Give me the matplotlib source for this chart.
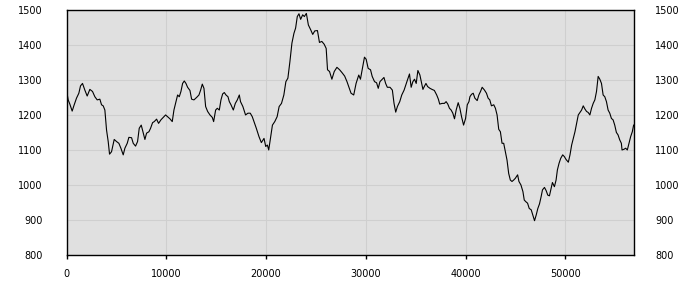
import matplotlib
matplotlib.use("Agg")
import matplotlib.pyplot as plt

# values
xs = [0, 167, 334, 569, 736, 1003, 1237, 1404, 1605, 1839, 2073, 2341, 2608, 2842,
      3077, 3344, 3511, 3678, 3846, 4013, 4180, 4314, 4514, 4782, 5016, 5250, 5451,
      5685, 5852, 6086, 6253, 6521, 6688, 6922, 7123, 7290, 7491, 7691, 7858, 8026,
      8260, 8427, 8628, 8795, 9029, 9229, 9464, 9698, 9932, 10132, 10366, 10600,
      10768, 10968, 11136, 11303, 11470, 11637, 11805, 11972, 12139, 12373, 12540,
      12774, 13042, 13276, 13443, 13610, 13777, 13945, 14145, 14379, 14613, 14747,
      14947, 15115, 15315, 15482, 15650, 15817, 15984, 16185, 16319, 16486, 16720,
      16920, 17121, 17321, 17441, 17677, 17946, 18182, 18418, 18620, 18855, 19024,
      19293, 19529, 19798, 19966, 20135, 20269, 20438, 20640, 20875, 21111, 21313,
      21549, 21785, 21987, 22189, 22391, 22593, 22795, 22963, 23131, 23300, 23468,
      23670, 23838, 24040, 24242, 24478, 24680, 24882, 25152, 25354, 25589, 25825,
      26027, 26162, 26364, 26599, 26835, 27104, 27374, 27609, 27879, 28114, 28350,
      28519, 28788, 29024, 29293, 29461, 29630, 29865, 30034, 30236, 30472, 30640,
      30876, 31078, 31246, 31414, 31650, 31818, 31987, 32155, 32424, 32660, 32828,
      32997, 33165, 33401, 33603, 33838, 34007, 34175, 34377, 34545, 34714, 34882,
      35050, 35219, 35421, 35589, 35724, 35858, 36027, 36195, 36431, 36633, 36869,
      37104, 37273, 37407, 37643, 37879, 38047, 38216, 38384, 38552, 38721, 38889,
      39057, 39259, 39428, 39596, 39798, 40000, 40168, 40337, 40432, 40598, 40764,
      40930, 41163, 41329, 41495, 41661, 41894, 42093, 42259, 42425, 42591, 42824,
      42990, 43156, 43322, 43488, 43654, 43820, 43986, 44153, 44319, 44485, 44651,
      44817, 44983, 45216, 45348, 45548, 45747, 45880, 46046, 46212, 46378, 46578,
      46744, 46910, 47076, 47242, 47408, 47574, 47707, 47906, 48072, 48239, 48405,
      48571, 48704, 48903, 49069, 49202, 49368, 49534, 49733, 49900, 50066, 50298,
      50464, 50630, 50797, 50963, 51129, 51295, 51461, 51627, 51793, 51959, 52125,
      52291, 52457, 52624, 52790, 52956, 53122, 53288, 53454, 53620, 53786, 53952,
      54118, 54285, 54451, 54617, 54783, 54949, 55115, 55281, 55447, 55613, 55680,
      55879, 56046, 56212, 56378, 56544, 56710, 56843]
ys = [1271, 1243, 1231, 1211, 1226, 1248, 1262, 1283, 1290, 1271, 1254, 1273, 1267,
      1252, 1243, 1245, 1229, 1226, 1214, 1157, 1124, 1088, 1095, 1130, 1124, 1119,
      1105, 1086, 1105, 1119, 1136, 1135, 1119, 1111, 1124, 1162, 1171, 1148, 1130,
      1148, 1152, 1162, 1178, 1181, 1188, 1176, 1186, 1193, 1200, 1195, 1189, 1181,
      1214, 1238, 1257, 1252, 1267, 1290, 1297, 1290, 1279, 1270, 1245, 1243, 1250,
      1257, 1271, 1288, 1276, 1224, 1210, 1200, 1193, 1181, 1214, 1219, 1214, 1243,
      1260, 1264, 1257, 1252, 1238, 1229, 1214, 1233, 1243, 1257, 1238, 1224, 1200,
      1205, 1205, 1195, 1176, 1162, 1138, 1121, 1133, 1110, 1114, 1100, 1133, 1171,
      1181, 1195, 1224, 1233, 1257, 1295, 1305, 1352, 1405, 1433, 1448, 1481, 1489,
      1473, 1486, 1481, 1490, 1457, 1443, 1430, 1440, 1441, 1407, 1410, 1402, 1390,
      1329, 1324, 1302, 1324, 1336, 1329, 1321, 1311, 1295, 1276, 1262, 1257, 1290,
      1314, 1302, 1329, 1365, 1359, 1333, 1329, 1310, 1295, 1292, 1276, 1295, 1302,
      1307, 1290, 1279, 1279, 1271, 1233, 1208, 1224, 1238, 1257, 1271, 1286, 1300,
      1317, 1279, 1295, 1302, 1290, 1327, 1314, 1292, 1273, 1281, 1290, 1281, 1276,
      1273, 1270, 1257, 1245, 1231, 1233, 1233, 1238, 1231, 1219, 1214, 1205, 1189,
      1214, 1235, 1219, 1195, 1171, 1190, 1229, 1238, 1252, 1259, 1262, 1248, 1241,
      1257, 1267, 1279, 1271, 1262, 1248, 1243, 1226, 1229, 1219, 1200, 1159, 1152,
      1119, 1119, 1095, 1071, 1033, 1014, 1010, 1014, 1019, 1029, 1010, 1000, 981,
      957, 952, 948, 933, 929, 914, 898, 914, 933, 946, 967, 986, 993, 984, 971, 969,
      990, 1007, 995, 1014, 1043, 1062, 1076, 1086, 1081, 1073, 1065, 1086, 1114,
      1133, 1152, 1176, 1200, 1207, 1214, 1226, 1217, 1210, 1207, 1200, 1219, 1233,
      1243, 1267, 1310, 1302, 1290, 1257, 1252, 1238, 1214, 1205, 1190, 1186, 1171,
      1150, 1143, 1129, 1119, 1100, 1102, 1105, 1100, 1119, 1138, 1152, 1171]

x_ticks = [0, 10000, 20000, 30000, 40000, 50000]
y_ticks = [800, 900, 1000, 1100, 1200, 1300, 1400, 1500]

fig = plt.figure(figsize=(7, 3), dpi=100)
ax = fig.add_axes([0.095, 0.15, 0.811, 0.817])
ax.set_facecolor("#e0e0e0")

ax.plot(xs, ys, color="black", linewidth=0.8)

ax.set_xlim(0, 56900)
ax.set_ylim(800, 1500)
ax.set_xticks(x_ticks)
ax.set_yticks(y_ticks)
ax.grid(True, color="#cfcfcf", linewidth=0.8)
ax.set_axisbelow(True)

for s in ax.spines.values():
    s.set_color("black")
    s.set_linewidth(1)

ax.tick_params(axis="x", length=3, width=1, pad=7, labelsize=7)
ax.tick_params(axis="y", length=0, pad=17, labelsize=7)

# right hand labels sit a bit closer to the frame than the left ones
ax2 = ax.twinx()
ax2.set_ylim(800, 1500)
ax2.set_yticks(y_ticks)
ax2.tick_params(axis="y", length=0, pad=15, labelsize=7)
for s in ax2.spines.values():
    s.set_visible(False)

fig.savefig("out.png", dpi=100)
